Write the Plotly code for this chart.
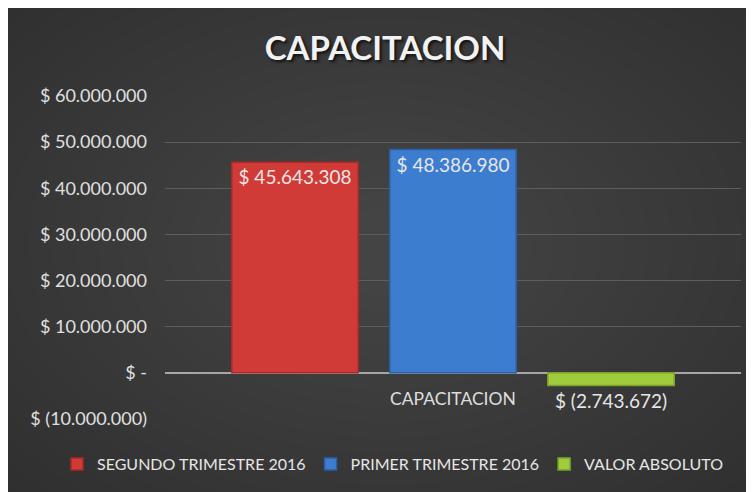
import plotly.graph_objects as go

categories = ["CAPACITACION"]
series_names = ["SEGUNDO TRIMESTRE 2016", "PRIMER TRIMESTRE 2016", "VALOR ABSOLUTO"]
series_values = [[45643308], [48386980], [-2743672]]
series_labels = ["$ 45.643.308", "$ 48.386.980", "$ (2.743.672)"]
series_colors = ["#D13B37", "#3D7DD0", "#9FCB3C"]
line_colors = ["#A82A27", "#2B5FA6", "#7BA32A"]
tick_vals = [-10000000, 0, 10000000, 20000000, 30000000, 40000000, 50000000, 60000000]
tick_text = ["$ (10.000.000)", "$ -", "$ 10.000.000", "$ 20.000.000", "$ 30.000.000",
             "$ 40.000.000", "$ 50.000.000", "$ 60.000.000"]

FONT = "Lato"
W, H = 754, 492
ML, MR, MT, MB = 157, 21, 88, 81
PW, PH = W - ML - MR, H - MT - MB


def px2paper_x(px):
    return (px - ML) / PW


def px2paper_y(py):
    return 1 - (py - MT) / PH


fig = go.Figure()
for name, vals, lab, col, lc in zip(series_names, series_values, series_labels, series_colors, line_colors):
    neg = vals[0] < 0
    fig.add_trace(go.Bar(
        x=categories, y=vals, name=name,
        marker=dict(color=col, line=dict(color=lc, width=1.5)),
        text=[lab],
        textposition="outside" if neg else "inside",
        insidetextanchor="end",
        textangle=0,
        cliponaxis=False,
        textfont=dict(family=FONT, size=19, color="#E6E6E6"),
        outsidetextfont=dict(family=FONT, size=19, color="#E6E6E6"),
    ))

fig.add_annotation(x=categories[0], y=0, xref="x", yref="y", text=categories[0],
                   showarrow=False, yshift=-26, font=dict(family=FONT, size=17.5, color="#DDDDDD"))

# soft radial background glow (styling only)
cx, cy = W / 2, H / 2 - 10
steps = 24
for i in range(steps):
    f = 1 - i / steps
    rx, ry = 560 * f + 30, 380 * f + 20
    fig.add_shape(type="circle", xref="paper", yref="paper",
                  x0=px2paper_x(cx - rx), x1=px2paper_x(cx + rx),
                  y0=px2paper_y(cy + ry), y1=px2paper_y(cy - ry),
                  fillcolor="rgba(255,255,255,0.009)", line=dict(width=0), layer="below")

fig.update_layout(
    width=W, height=H,
    margin=dict(l=ML, r=MR, t=MT, b=MB, autoexpand=False),
    paper_bgcolor="#2C2C2C", plot_bgcolor="rgba(0,0,0,0)",
    title=dict(text="<b>CAPACITACION</b>", x=0.5, xref="container", xanchor="center",
               y=1 - 40/H, yanchor="middle",
               font=dict(family=FONT, size=33, color="#F2F2F2",
                         shadow="2px 2px 3px #111")),
    barmode="group", bargap=0.177, bargroupgap=0.2,
    showlegend=True,
    legend=dict(orientation="h", xref="paper", x=-108/PW, xanchor="left",
                yref="paper", y=-45/PH, yanchor="middle",
                font=dict(family=FONT, size=16, color="#E6E6E6"),
                itemwidth=30, bgcolor="rgba(0,0,0,0)", traceorder="normal"),
    xaxis=dict(showticklabels=False, showgrid=False, zeroline=False, showline=False),
    yaxis=dict(range=[-10000000, 60000000], tickvals=tick_vals, ticktext=tick_text,
               showgrid=True, gridcolor="#5E5E5E", gridwidth=1,
               zeroline=True, zerolinecolor="#A6A6A6", zerolinewidth=2,
               tickfont=dict(family=FONT, size=18, color="#E0E0E0"),
               ticks="", ticklabelstandoff=17, showline=False, automargin=False),
    font=dict(family=FONT),
)

fig.write_html("out.html")
